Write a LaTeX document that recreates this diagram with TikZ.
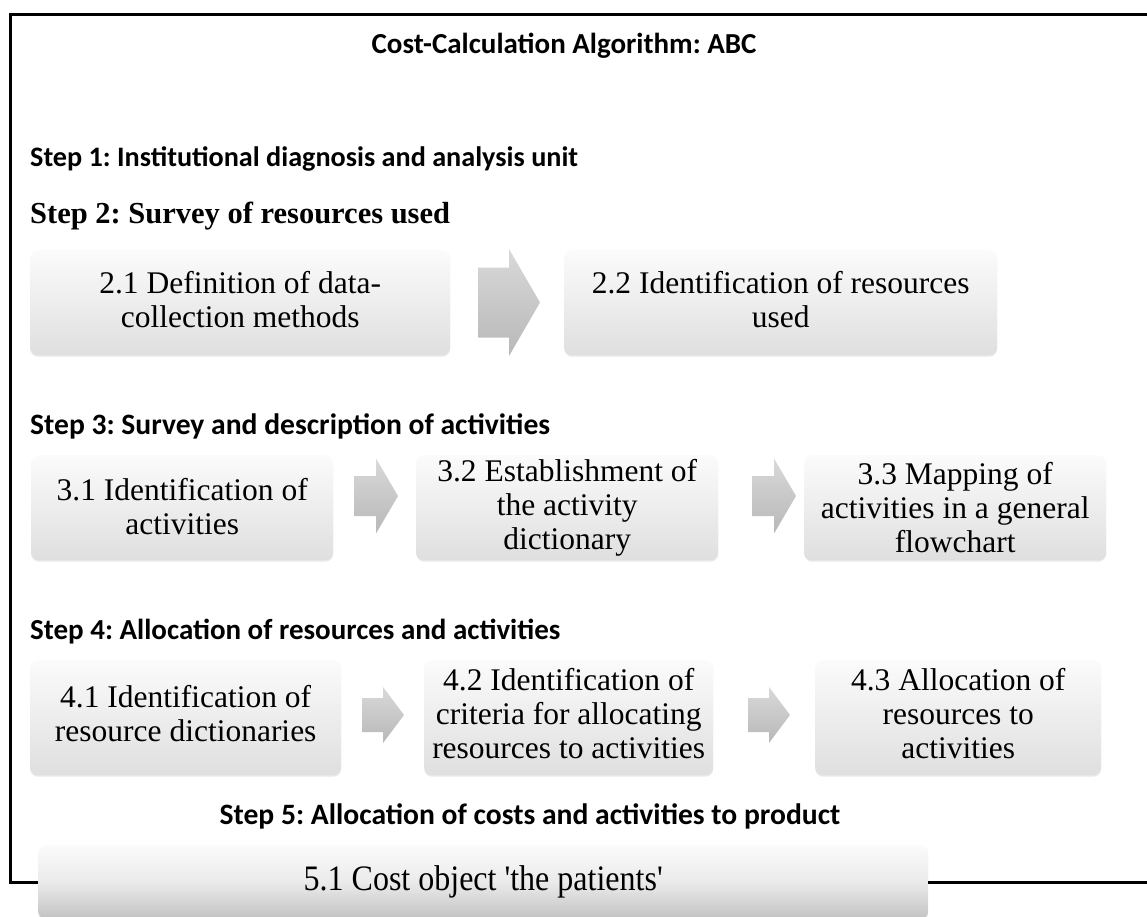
\documentclass[tikz,border=0pt]{standalone}
\usepackage{fontspec}
\setmainfont{Liberation Serif}
\newfontfamily\calfont{Carlito}
\usetikzlibrary{shadows}
\definecolor{boxtop}{HTML}{FBFBFB}
\definecolor{boxmid}{HTML}{F4F4F4}
\definecolor{boxbot}{HTML}{DFDFDF}
\definecolor{boxbotdark}{HTML}{C2C2C2}
\definecolor{arrtop}{HTML}{D9D9D9}
\definecolor{arrbot}{HTML}{B8B8B8}
\newcommand\bxf{\fontsize{31.5}{34}\selectfont}
% name, x0, yc, length, head length, shaft height, head height
\newcommand\barrow[7]{%
  \coordinate (#1) at (#2+#4/2,#3);
  \shade[arrowshade] (#2,#3-#6/2) -- (#2+#4-#5,#3-#6/2) -- (#2+#4-#5,#3-#7/2) -- (#2+#4,#3)
    -- (#2+#4-#5,#3+#7/2) -- (#2+#4-#5,#3+#6/2) -- (#2,#3+#6/2) -- cycle;}
% name, x, y, w, h, extra options, text shift, text
\newcommand\pbox[8]{%
  \node[procbox, minimum width=#4pt, minimum height=#5pt, #6] (#1) at (#2,#3) {};
  \node[boxtext] (#1t) at ([yshift=#7pt]#1.center) {#8};}
\begin{document}
\frenchspacing
\begin{tikzpicture}[x=1pt,y=-1pt,
  procbox/.style={rounded corners=8pt, top color=boxtop, middle color=boxmid, bottom color=boxbot,
    anchor=north west, inner sep=0pt,
    drop shadow={shadow xshift=0pt, shadow yshift=-1.5pt, opacity=0.18}},
  boxtext/.style={align=center, font=\bxf, inner sep=0pt},
  arrowshade/.style={top color=arrtop, bottom color=arrbot},
  steplab/.style={font=\calfont\bfseries\fontsize{#1}{30}\selectfont, inner sep=0pt, anchor=base west},
  steplab/.default=28,
]
\useasboundingbox (0,0) rectangle (1147,917);
\clip (0,0) rectangle (1147,917);
\draw[line width=3pt] (10,15) rectangle (1200,882);

\node[steplab=29, anchor=base] (title) at (564,54) {Cost-Calculation Algorithm: ABC};
\node[steplab=28.2] (s1) at (30,167) {Step 1: Institutional diagnosis and analysis unit};
\node[font=\bfseries\fontsize{30.5}{33}\selectfont, inner sep=0pt, anchor=base west] (s2) at (30,224) {Step 2: Survey of resources used};
\node[steplab=29.6] (s3) at (30,434) {Step 3: Survey and description of activities};
\node[steplab=29] (s4) at (30,639) {Step 4: Allocation of resources and activities};
\node[steplab=29.6, anchor=base] (s5) at (530,824) {Step 5: Allocation of costs and activities to product};

% row 2
\pbox{b21}{30}{250}{420}{105}{}{3}{2.1 Definition of data-\\collection methods}
\pbox{b22}{564}{250}{433}{105}{}{3}{2.2 Identification of resources\\used}
\barrow{a2}{478}{302.5}{62}{31}{70}{107}

% row 3
\pbox{b31}{31}{455}{302}{105}{}{1}{3.1 Identification of\\activities}
\pbox{b32}{416}{455}{302}{105}{}{0}{3.2 Establishment of\\the activity\\dictionary}
\pbox{b33}{804}{455}{302}{105}{}{0}{3.3 Mapping of\\activities in a general\\flowchart}
\barrow{a31}{354}{496}{44}{22}{40}{75}
\barrow{a32}{752}{496}{44}{22}{40}{75}

% row 4
\pbox{b41}{30}{660}{311}{115}{}{4}{4.1 Identification of\\resource dictionaries}
\pbox{b42}{424}{660}{289}{115}{}{4}{4.2 Identification of\\criteria for allocating\\resources to activities}
\pbox{b43}{815}{660}{286}{115}{}{4}{4.3 Allocation of\\resources to\\activities}
\barrow{a41}{362}{715}{42}{21}{34}{56}
\barrow{a42}{748}{715}{42}{21}{34}{56}

% row 5
\pbox{b51}{38}{845}{890}{74}{bottom color=boxbotdark, middle color=boxbot!60!boxtop}{0}{\fontsize{32}{34}\selectfont\scalebox{1}[1.12]{5.1 Cost object \textquotesingle the patients\textquotesingle}}
\end{tikzpicture}
\end{document}
